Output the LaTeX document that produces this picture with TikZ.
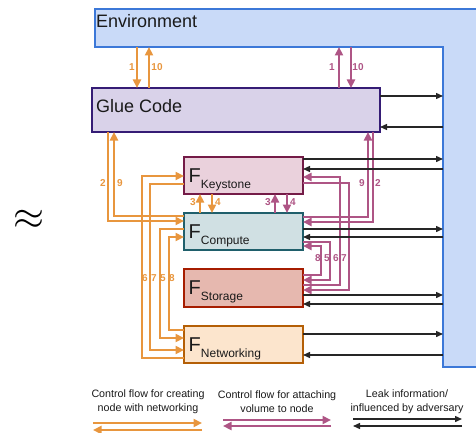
\documentclass[tikz,border=0pt]{standalone}
\usepackage{fontspec}
\setmainfont{Liberation Sans}
\usetikzlibrary{arrows.meta,calc}
\definecolor{envfill}{HTML}{C9DAF8}
\definecolor{envline}{HTML}{3C78D8}
\definecolor{gluefill}{HTML}{D9D2E9}
\definecolor{glueline}{HTML}{351C75}
\definecolor{ksfill}{HTML}{EAD1DC}
\definecolor{ksline}{HTML}{741B47}
\definecolor{cpfill}{HTML}{D0E0E3}
\definecolor{cpline}{HTML}{1F5F6B}
\definecolor{stfill}{HTML}{E6B8AF}
\definecolor{stline}{HTML}{A61C00}
\definecolor{nwfill}{HTML}{FCE5CD}
\definecolor{nwline}{HTML}{B45F06}
\definecolor{orng}{HTML}{E8963E}
\definecolor{prpl}{HTML}{AE5585}
\definecolor{txt}{HTML}{1A1A1A}

% leak arrows between a component box and the environment bar
\newcommand\leakpair[3]{%
  \path ($(#1.north east)+(0,#2)$) coordinate (#1-out)
        ($(#1.north east)+(0,#3)$) coordinate (#1-in);
  \draw[leak] (#1-out) -- (#1-out -| envbar.west);
  \draw[leak] (#1-in -| envbar.west) -- (#1-in);
}
% "F" with a subscripted component name inside a box
\newcommand\flabel[2]{%
  \node[anchor=base west, inner sep=0pt, text=txt] (#1-lbl) at ($(#1.north west)+(4.5,25)$)
    {\fontsize{20}{20}\selectfont F\fontsize{12}{12}\selectfont\raisebox{-6.5pt}{#2}};
}

\begin{document}
\begin{tikzpicture}[x=1pt,y=-1pt,
  box/.style={draw, line width=1.8pt, anchor=north west, inner sep=0pt, outer sep=0pt},
  ctl/.style={line width=2.2pt, -{Triangle[length=8.5pt,width=8pt]}},
  oarr/.style={ctl, draw=orng},
  parr/.style={ctl, draw=prpl},
  leak/.style={line width=1.4pt, draw=black!85, -{Triangle[length=7pt,width=6pt]}},
  num/.style={font=\fontsize{10}{10}\selectfont\bfseries, inner sep=0pt},
  onum/.style={num, text=orng},
  pnum/.style={num, text=prpl},
  bigtxt/.style={font=\fontsize{18}{18}\selectfont, text=txt, inner sep=0pt, anchor=base west},
  legtxt/.style={font=\fontsize{10.7}{14}\selectfont, text=txt, inner sep=0pt, align=center},
  region/.style={anchor=north west, inner sep=0pt, outer sep=0pt, draw=none}
]
\useasboundingbox (0,0) rectangle (476,433);

% environment: inverted L shape
\draw[draw=envline, fill=envfill, line width=1.8pt]
  (95,9) -- (490,9) -- (490,367) -- (443,367) -- (443,47) -- (95,47) -- cycle;
\node[region, minimum width=381pt, minimum height=38pt] (envtop) at (95,9) {};
\node[region, minimum width=40pt, minimum height=320pt] (envbar) at (443,47) {};
\node[bigtxt] (envtxt) at (96,28) {Environment};

\node[font=\fontsize{24.88}{24.88}\selectfont, inner sep=0pt, scale=1.6] (approx) at (29,220) {$\approx$};

% components
\node[box, draw=glueline, fill=gluefill, minimum width=288pt, minimum height=44pt] (glue) at (92,88) {};
\node[bigtxt] (gluetxt) at (96,113) {Glue Code};
\node[box, draw=ksline, fill=ksfill, minimum width=119pt, minimum height=37pt] (ks) at (184,157) {};
\node[box, draw=cpline, fill=cpfill, minimum width=119pt, minimum height=37pt] (cp) at (184,213) {};
\node[box, draw=stline, fill=stfill, minimum width=119pt, minimum height=38pt] (st) at (184,269) {};
\node[box, draw=nwline, fill=nwfill, minimum width=119pt, minimum height=37pt] (nw) at (184,326) {};
\flabel{ks}{Keystone}
\flabel{cp}{Compute}
\flabel{st}{Storage}
\flabel{nw}{Networking}

% environment <-> glue code
\path ($(glue.north west)+(45,0)$) coordinate (g1o)
      ($(glue.north west)+(57,0)$) coordinate (g10o)
      ($(glue.north west)+(247,0)$) coordinate (g1p)
      ($(glue.north west)+(259,0)$) coordinate (g10p);
\draw[oarr] (g1o |- envtop.south) -- (g1o);
\draw[oarr] (g10o) -- (g10o |- envtop.south);
\draw[parr] (g1p) -- (g1p |- envtop.south);
\draw[parr] (g10p |- envtop.south) -- (g10p);
\node[onum] (lo1) at (132,67) {1};
\node[onum] (lo10) at (157,67) {10};
\node[pnum] (lp1) at (332,67) {1};
\node[pnum] (lp10) at (358,67) {10};

% glue code <-> compute
\draw[oarr] ($(glue.south west)+(16,0)$) |- ($(cp.north west)+(0,8)$);
\draw[oarr] ($(cp.north west)+(0,3)$) -| ($(glue.south west)+(22,0)$);
\draw[parr] ($(cp.north east)+(0,4)$) -| ($(glue.south west)+(276,0)$);
\draw[parr] ($(glue.south west)+(281,0)$) |- ($(cp.north east)+(0,9)$);
\node[onum] (lo2) at (103,183) {2};
\node[onum] (lo9) at (120,183) {9};
\node[pnum] (lp9) at (362,183) {9};
\node[pnum] (lp2) at (378,183) {2};

% compute <-> keystone
\draw[oarr] ($(cp.north west)+(16,0)$) -- ($(ks.south west)+(16,0)$);
\draw[oarr] ($(ks.south west)+(28,0)$) -- ($(cp.north west)+(28,0)$);
\draw[parr] ($(cp.north west)+(91,0)$) -- ($(ks.south west)+(91,0)$);
\draw[parr] ($(ks.south west)+(103,0)$) -- ($(cp.north west)+(103,0)$);
\node[onum] (lo3) at (193,202) {3};
\node[onum] (lo4) at (218,202) {4};
\node[pnum] (lp3) at (268,202) {3};
\node[pnum] (lp4) at (293,202) {4};

% networking loops (left side)
\draw[oarr] ($(nw.north west)+(0,32)$) -- ++(-42,0) |- ($(ks.north west)+(0,19)$);
\draw[oarr] ($(ks.north west)+(0,27)$) -- ++(-34,0) |- ($(nw.north west)+(0,24)$);
\draw[oarr] ($(cp.north west)+(0,16)$) -- ++(-24,0) |- ($(nw.north west)+(0,12)$);
\draw[oarr] ($(nw.north west)+(0,4)$) -- ++(-15,0) |- ($(cp.north west)+(0,24)$);
\node[onum] (lo6) at (145,278) {6};
\node[onum] (lo7) at (154,278) {7};
\node[onum] (lo5) at (163,278) {5};
\node[onum] (lo8) at (172,278) {8};

% storage loops (right side)
\draw[parr] ($(st.north east)+(0,6)$) -- ++(18,0) |- ($(cp.north east)+(0,33)$);
\draw[parr] ($(cp.north east)+(0,29)$) -- ++(27,0) |- ($(st.north east)+(0,11)$);
\draw[parr] ($(st.north east)+(0,16)$) -- ++(37,0) |- ($(ks.north east)+(0,20)$);
\draw[parr] ($(ks.north east)+(0,26)$) -- ++(46,0) |- ($(st.north east)+(0,21)$);
\node[pnum] (lp8) at (318,258) {8};
\node[pnum] (lp5) at (327,258) {5};
\node[pnum] (lp6) at (336,258) {6};
\node[pnum] (lp7) at (344,258) {7};

% leak / influence arrows to the environment
\leakpair{glue}{8}{39}
\leakpair{ks}{2}{12}
\leakpair{cp}{16}{24}
\leakpair{st}{26}{35}
\leakpair{nw}{8}{29}

% legend
\draw[oarr] (93,423) -- (202,423);
\draw[oarr] (202,430) -- (93,430);
\draw[parr] (223,420) -- (331,420);
\draw[parr] (331,426) -- (223,426);
\draw[leak] (353,419) -- (462,419);
\draw[leak] (462,426) -- (353,426);
\node[legtxt] (leg1) at (148,401.5) {Control flow for creating\\node with networking};
\node[legtxt] (leg2) at (277,401.5) {Control flow for attaching\\volume to node};
\node[legtxt] (leg3) at (407,401.5) {Leak information/\\influenced by adversary};
\end{tikzpicture}
\end{document}
